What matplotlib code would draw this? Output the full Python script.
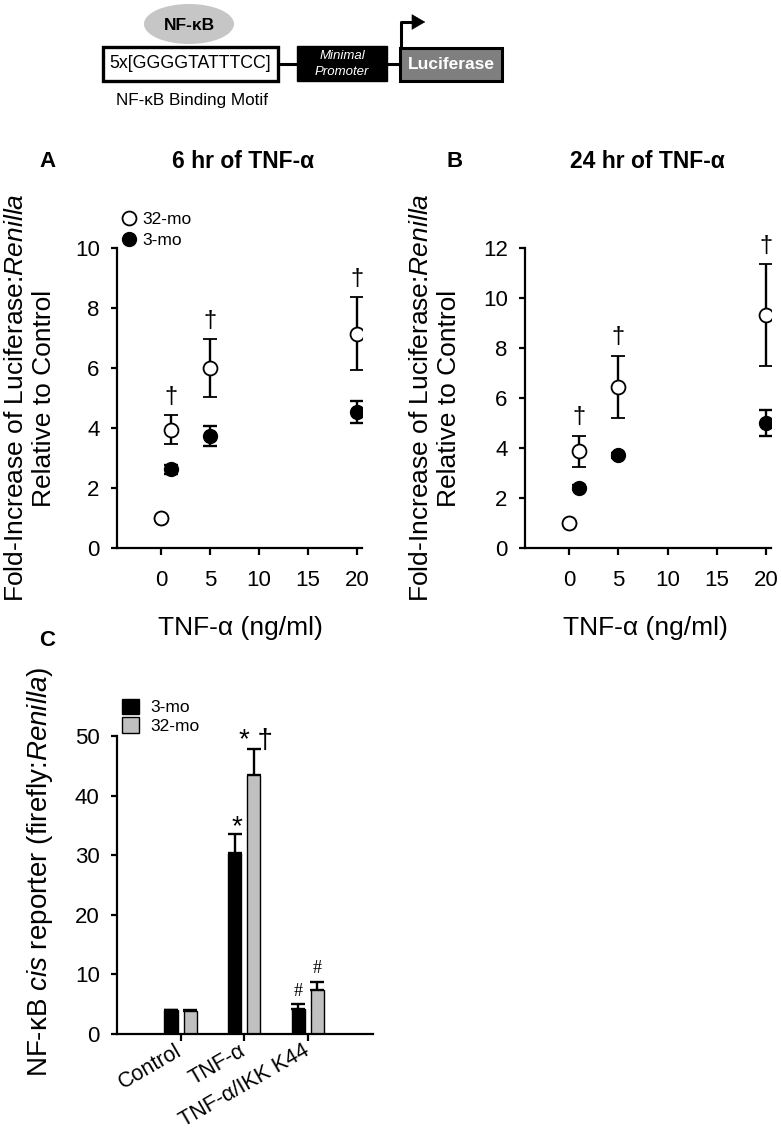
import numpy as np
import matplotlib
matplotlib.use("Agg")
import matplotlib.pyplot as plt
from matplotlib.patches import Rectangle, Ellipse, FancyArrowPatch
from matplotlib.lines import Line2D

plt.rcParams['font.family'] = ['Liberation Sans', 'DejaVu Sans']
plt.rcParams['mathtext.fontset'] = 'custom'
plt.rcParams['mathtext.rm'] = 'Liberation Sans'
plt.rcParams['mathtext.it'] = 'Liberation Sans:italic'
plt.rcParams['mathtext.bf'] = 'Liberation Sans:bold'

# ---- data ----
doses = [0, 1, 5, 20]

# panel A, 6 hr
old_a = [1.0, 3.95, 6.0, 7.15]
old_a_err = [0, 0.49, 0.97, 1.22]
young_a = [1.0, 2.63, 3.74, 4.54]
young_a_err = [0, 0.15, 0.34, 0.36]
dagger_a = ['', '†', '†', '†']

# panel B, 24 hr
old_b = [1.0, 3.88, 6.45, 9.32]
old_b_err = [0, 0.62, 1.25, 2.03]
young_b = [1.0, 2.41, 3.71, 5.0]
young_b_err = [0, 0.1, 0.1, 0.52]
dagger_b = ['', '†', '†', '†']

# panel C
groups = ['Control', 'TNF-α', 'TNF-α/IKK K44']
young_c = [3.95, 30.3, 4.2]
young_c_err = [0.1, 3.2, 0.85]
old_c = [3.9, 43.5, 7.37]
old_c_err = [0.1, 4.4, 1.43]
young_c_sig = ['', '*', '#']
old_c_sig = ['', '* †', '#']

W, H = 781, 1132
fig = plt.figure(figsize=(W / 100, H / 100), dpi=100)


def px_axes(l, t, r, b):
    return fig.add_axes([l / W, 1 - b / H, (r - l) / W, (b - t) / H])


# ---- construct diagram on top ----
dg = fig.add_axes([0, 0, 1, 1])
dg.set_xlim(0, W)
dg.set_ylim(H, 0)
dg.axis('off')
dg.plot([278, 400], [63.5, 63.5], color='black', lw=2.2)
dg.add_patch(Rectangle((103, 47), 175, 34, fc='white', ec='black', lw=2.4, zorder=3))
dg.text(190.5, 64, '5x[GGGGTATTTCC]', ha='center', va='center', fontsize=12.8, zorder=4)
dg.add_patch(Rectangle((297, 46), 90, 35, fc='black', ec='black', lw=1, zorder=3))
dg.text(342, 56, 'Minimal', ha='center', va='center', fontsize=9.5, style='italic',
        color='white', zorder=4)
dg.text(342, 72, 'Promoter', ha='center', va='center', fontsize=9.5, style='italic',
        color='white', zorder=4)
dg.add_patch(Rectangle((400, 47.5), 102, 33, fc='#7f7f7f', ec='black', lw=2.2, zorder=3))
dg.text(451, 64.5, 'Luciferase', ha='center', va='center', fontsize=12.5, fontweight='bold',
        color='white', zorder=4)
dg.plot([401, 401, 418], [47, 22, 22], color='black', lw=2.2, solid_capstyle='butt')
dg.add_patch(FancyArrowPatch((416, 22), (428, 22), arrowstyle='-|>,head_length=6,head_width=3.5',
                             color='black', lw=0.5, mutation_scale=1.5))
dg.add_patch(Ellipse((189, 24), 90, 40, fc='#c6c6c6', ec='none', zorder=2))
dg.text(189, 25, 'NF-κB', ha='center', va='center', fontsize=12.5, fontweight='bold', zorder=4)
dg.text(192, 100, 'NF-κB Binding Motif', ha='center', va='center', fontsize=12.3)


def style_axes(ax):
    for s in ['top', 'right']:
        ax.spines[s].set_visible(False)
    for s in ['left', 'bottom']:
        ax.spines[s].set_linewidth(1.6)
    ax.tick_params(axis='y', direction='out', length=4.5, width=1.6, pad=8, labelsize=16)
    ax.tick_params(axis='x', direction='out', length=5, width=1.6, pad=11, labelsize=16)


def dose_panel(ax, old, old_err, young, young_err, daggers, ymax):
    ax.errorbar(doses, young, yerr=young_err, fmt='o', color='black', ms=10,
                mfc='black', mec='black', elinewidth=1.7, capsize=5, capthick=1.7, zorder=3)
    ax.errorbar(doses, old, yerr=old_err, fmt='o', color='black', ms=10,
                mfc='white', mec='black', mew=1.3, elinewidth=1.7, capsize=5, capthick=1.7,
                zorder=4)
    for x, m, e, d in zip(doses, old, old_err, daggers):
        if d:
            ax.annotate(d, (x, m + e), xytext=(0, 13), textcoords='offset points',
                        ha='center', va='center', fontsize=17)
    ax.set_xlim(-4.5, 20.5)
    ax.set_ylim(0, ymax)
    ax.set_xticks([0, 5, 10, 15, 20])
    ax.set_yticks(np.arange(0, ymax + 1, 2))
    style_axes(ax)


ylab = 'Fold-Increase of Luciferase:$\\mathit{Renilla}$\nRelative to Control'

# ---- panel A ----
axA = px_axes(117, 248, 362, 548)
dose_panel(axA, old_a, old_a_err, young_a, young_a_err, dagger_a, 10)
axA.set_ylabel(ylab, fontsize=19, va='center', linespacing=1.25)
axA.yaxis.set_label_coords(-0.355, 0.5)
axA.set_xlabel('TNF-α (ng/ml)', fontsize=19, va='center')
axA.xaxis.set_label_coords(0.502, -0.267)
axA.text(0.514, 1.287, '6 hr of TNF-α', transform=axA.transAxes, ha='center', va='center',
         fontsize=16.5, fontweight='bold')
axA.text(-0.282, 1.287, 'A', transform=axA.transAxes, ha='center', va='center',
         fontsize=16, fontweight='bold')
leg_handles = [Line2D([], [], ls='none', marker='o', ms=10, mfc='white', mec='black', mew=1.3),
               Line2D([], [], ls='none', marker='o', ms=10, mfc='black', mec='black')]
axA.legend(leg_handles, ['32-mo', '3-mo'], loc='lower left', bbox_to_anchor=(0.02, 1.0),
           frameon=False, fontsize=12.5, handlelength=0.8, handletextpad=0.4, borderpad=0,
           borderaxespad=0, labelspacing=0.35)

# ---- panel B ----
axB = px_axes(525, 248, 771, 548)
dose_panel(axB, old_b, old_b_err, young_b, young_b_err, dagger_b, 12)
axB.set_ylabel(ylab, fontsize=19, va='center', linespacing=1.25)
axB.yaxis.set_label_coords(-0.366, 0.5)
axB.set_xlabel('TNF-α (ng/ml)', fontsize=19, va='center')
axB.xaxis.set_label_coords(0.489, -0.267)
axB.text(0.497, 1.287, '24 hr of TNF-α', transform=axB.transAxes, ha='center', va='center',
         fontsize=16.5, fontweight='bold')
axB.text(-0.285, 1.287, 'B', transform=axB.transAxes, ha='center', va='center',
         fontsize=16, fontweight='bold')

# ---- panel C ----
axC = px_axes(117, 736, 373, 1034)
x = np.arange(len(groups))
bw = 0.205
axC.bar(x - 0.15, young_c, bw, color='black', edgecolor='black', lw=1, label='3-mo', zorder=2)
axC.bar(x + 0.15, old_c, bw, color='#c0c0c0', edgecolor='black', lw=1, label='32-mo', zorder=2)
axC.errorbar(x - 0.15, young_c, yerr=[np.zeros(3), young_c_err], fmt='none', ecolor='black',
             elinewidth=1.7, capsize=5, capthick=1.7, zorder=1)
axC.errorbar(x + 0.15, old_c, yerr=[np.zeros(3), old_c_err], fmt='none', ecolor='black',
             elinewidth=1.7, capsize=5, capthick=1.7, zorder=1)
for xs, ms, es, sigs in [(x - 0.15, young_c, young_c_err, young_c_sig),
                         (x + 0.15, old_c, old_c_err, old_c_sig)]:
    for xi, m, e, s in zip(xs, ms, es, sigs):
        if not s:
            continue
        if '*' in s:
            axC.annotate(s, (xi, m + e), xytext=(2, -4), textcoords='offset points',
                         ha='center', va='bottom', fontsize=20)
        else:
            axC.annotate(s, (xi, m + e), xytext=(0, 3), textcoords='offset points',
                         ha='center', va='bottom', fontsize=13, family='Liberation Serif')
axC.set_xlim(-1.0, 3.03)
axC.set_ylim(0, 50)
axC.set_yticks(np.arange(0, 51, 10))
axC.set_xticks(x)
axC.set_xticklabels(groups, rotation=30, ha='right', va='center', rotation_mode='anchor')
style_axes(axC)
axC.tick_params(axis='x', pad=6, labelsize=15.5)
axC.set_ylabel('NF-κB $\\mathit{cis}$ reporter (firefly:$\\mathit{Renilla}$)', fontsize=20,
               va='center')
axC.yaxis.set_label_coords(-0.30, 0.544)
axC.text(-0.273, 1.322, 'C', transform=axC.transAxes, ha='center', va='center',
         fontsize=16, fontweight='bold')
axC.legend(loc='lower left', bbox_to_anchor=(0.02, 1.007), frameon=False, fontsize=12.5,
           handlelength=1.0, handleheight=1.0, handletextpad=0.6, borderpad=0,
           borderaxespad=0, labelspacing=0.1)

fig.savefig('out.png', dpi=100)
